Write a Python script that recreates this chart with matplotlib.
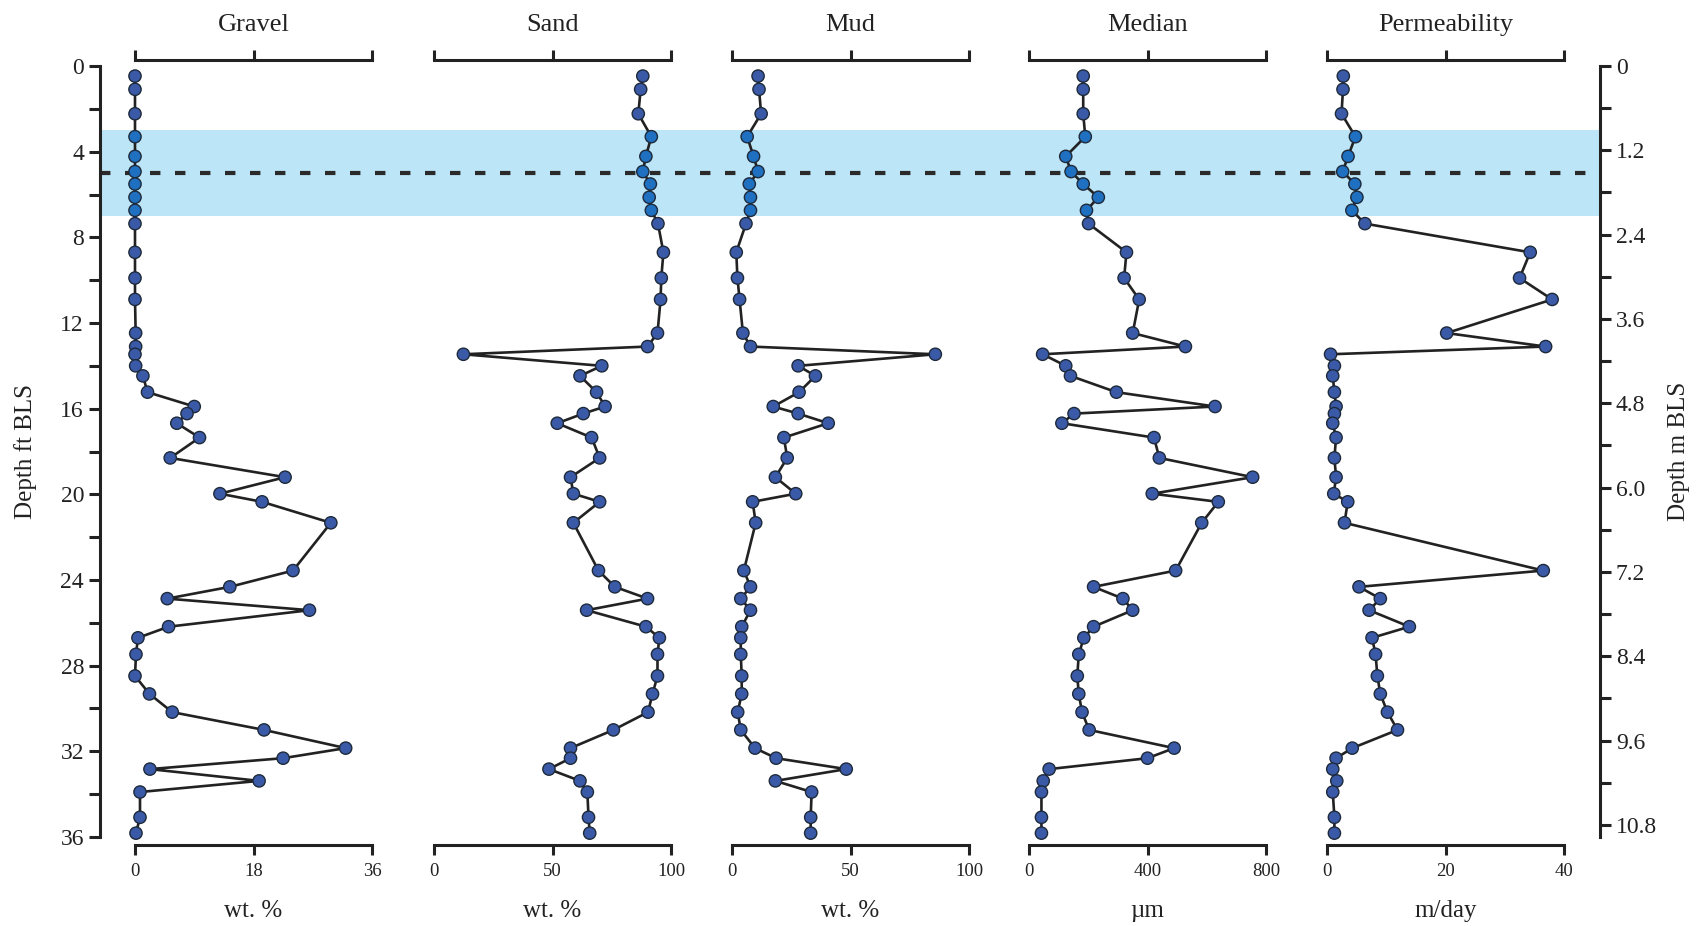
import matplotlib
matplotlib.use("Agg")
import matplotlib.pyplot as plt
import numpy as np

plt.rcParams['font.family'] = ['Liberation Serif', 'DejaVu Serif']

depth_ft = [0.47, 1.09, 2.23, 3.3, 4.22, 4.93, 5.51, 6.13, 6.74, 7.36, 8.7, 9.9, 10.9,
            12.47, 13.1, 13.46, 14.0, 14.47, 15.23, 15.9, 16.23, 16.68, 17.35, 18.3, 19.2,
            19.97, 20.35, 21.33, 23.56, 24.32, 24.87, 25.41, 26.18, 26.7, 27.47, 28.48,
            29.32, 30.17, 31.0, 31.85, 32.32, 32.83, 33.38, 33.9, 35.08, 35.82]

gravel = [0, 0, 0, 0, 0, 0, 0, 0, 0, 0, 0, 0, 0,
          0.1, 0.1, 0, 0.1, 1.2, 1.9, 9.0, 7.9, 6.35, 9.8, 5.35, 22.8,
          12.9, 19.3, 29.75, 24.0, 14.4, 4.9, 26.5, 5.1, 0.45, 0.15, 0.0,
          2.2, 5.66, 19.6, 32.0, 22.5, 2.27, 18.85, 0.76, 0.76, 0.15]

sand = [88.1, 87.2, 86.2, 91.7, 89.4, 88.1, 91.3, 90.8, 91.7, 94.5, 96.8, 95.9, 95.6,
        94.3, 90.1, 12.4, 70.8, 61.6, 68.6, 72.2, 63.0, 52.0, 66.5, 69.9, 57.6,
        58.8, 69.9, 58.8, 69.4, 76.3, 90.1, 64.4, 89.4, 95.1, 94.3, 94.3,
        92.2, 90.3, 75.7, 57.6, 57.6, 48.5, 61.6, 64.7, 65.2, 65.7]

mud = [11.0, 11.4, 12.3, 6.4, 9.1, 11.0, 7.3, 7.8, 7.8, 5.9, 1.8, 2.3, 3.2,
       4.6, 7.8, 85.8, 27.9, 35.2, 28.3, 17.4, 27.9, 40.6, 21.9, 23.3, 18.3,
       26.9, 8.7, 10.0, 5.0, 7.8, 3.7, 7.8, 4.1, 3.7, 3.7, 4.1,
       4.1, 2.4, 3.7, 9.7, 18.6, 48.2, 18.3, 33.6, 33.2, 33.2]

median_um = [183, 183, 183, 190, 124, 142, 183, 234, 194, 201, 329, 321, 372,
             350, 528, 46, 124, 140, 295, 628, 152, 111, 422, 440, 755,
             416, 639, 583, 495, 218, 317, 350, 218, 185, 168, 163,
             168, 179, 203, 490, 400, 68, 48, 42, 42, 42]

perm = [2.75, 2.7, 2.45, 4.8, 3.55, 2.65, 4.7, 5.05, 4.2, 6.4, 34.3, 32.5, 38.0,
        20.2, 36.9, 0.6, 1.25, 0.97, 1.25, 1.53, 1.25, 0.97, 1.53, 1.25, 1.53,
        1.14, 3.5, 2.95, 36.5, 5.4, 9.0, 7.1, 13.9, 7.6, 8.2, 8.5,
        9.0, 10.2, 11.9, 4.26, 1.53, 0.97, 1.65, 0.97, 1.25, 1.25]

titles = ["Gravel", "Sand", "Mud", "Median", "Permeability"]
xlabels = ["wt. %", "wt. %", "wt. %", "\u00b5m", "m/day"]
xmax = [36, 100, 100, 800, 40]
xticks = [[0, 18, 36], [0, 50, 100], [0, 50, 100], [0, 400, 800], [0, 20, 40]]
series = [gravel, sand, mud, median_um, perm]

band = (3, 7)
dash_depth = 5
ft_max = 36
m_per_ft = 0.3048

W, H = 1697, 926
fig = plt.figure(figsize=(W / 100, H / 100), dpi=100)

def fx(px):
    return px / W

def fy(py):
    return 1 - py / H

y_top, y_bot = 66, 837
# main depth axis
ax0 = fig.add_axes([fx(100), fy(y_bot), fx(1600 - 100), (y_bot - y_top) / H])
ax0.set_ylim(ft_max, 0)
ax0.set_xlim(0, 1)
ax0.set_xticks([])
for s in ['top', 'bottom', 'right']:
    ax0.spines[s].set_visible(False)
ax0.spines['left'].set_linewidth(2.2)
ax0.spines['left'].set_color('#222222')
ax0.set_yticks(np.arange(0, 37, 4))
ax0.set_yticks(np.arange(0, 37, 2), minor=True)
ax0.tick_params(axis='y', which='both', direction='out', width=2.2, color='#222222',
                labelsize=17, labelcolor='#222222', length=8)
ax0.set_ylabel("Depth ft BLS", fontsize=18, color='#222222', labelpad=17)
ax0.axhspan(band[0], band[1], color='#bde5f8', zorder=0, lw=0)
ax0.axhline(dash_depth, color='#2a2a2a', lw=3, ls=(0, (2.5, 3.5)), zorder=1)

axr = ax0.twinx()
axr.set_ylim(ft_max * m_per_ft, 0)
for s in ['top', 'bottom', 'left']:
    axr.spines[s].set_visible(False)
axr.spines['right'].set_linewidth(2.2)
axr.spines['right'].set_color('#222222')
rt = np.round(np.arange(0, 10.81, 1.2), 1)
axr.set_yticks(rt)
axr.set_yticklabels([("%.1f" % v) if v != 0 else "0" for v in rt])
axr.set_yticks(np.arange(0, 10.81, 0.6), minor=True)
axr.tick_params(axis='y', which='both', direction='out', width=2.2, length=8, color='#222222',
                labelsize=17, labelcolor='#222222')
axr.set_ylabel("Depth m BLS", fontsize=18, color='#222222', labelpad=8)

panel_x = [135, 434, 732, 1029, 1327]
panel_w = 237
col_out = '#3a5aa8'
col_in = '#1f70c0'
colors = [col_in if band[0] <= d <= band[1] else col_out for d in depth_ft]

for i in range(5):
    ax = fig.add_axes([fx(panel_x[i]), fy(y_bot), fx(panel_w), (y_bot - y_top) / H])
    ax.patch.set_alpha(0)
    ax.set_xlim(0, xmax[i])
    ax.set_ylim(ft_max, 0)
    ax.set_yticks([])
    ax.spines['left'].set_visible(False)
    ax.spines['right'].set_visible(False)
    for s in ['top', 'bottom']:
        ax.spines[s].set_linewidth(2.2)
        ax.spines[s].set_color('#222222')
    ax.spines['top'].set_position(('outward', 4.5))
    ax.spines['bottom'].set_position(('outward', 6))
    ax.set_xticks(xticks[i])
    ax.tick_params(axis='x', which='both', direction='out', width=2.2, length=7,
                   color='#222222', top=True, bottom=True, labeltop=False,
                   labelsize=13.5, labelcolor='#222222', pad=6)
    ax.plot(series[i], depth_ft, color='#222222', lw=1.9, zorder=3, clip_on=False)
    ax.scatter(series[i], depth_ft, s=78, c=colors, edgecolors='#1e2a3a', linewidths=1.0,
               zorder=4, clip_on=False)
    ax.set_title(titles[i], fontsize=19, color='#222222', pad=25)
    ax.set_xlabel(xlabels[i], fontsize=18, color='#222222', labelpad=14)

fig.savefig("out.png", dpi=100)
